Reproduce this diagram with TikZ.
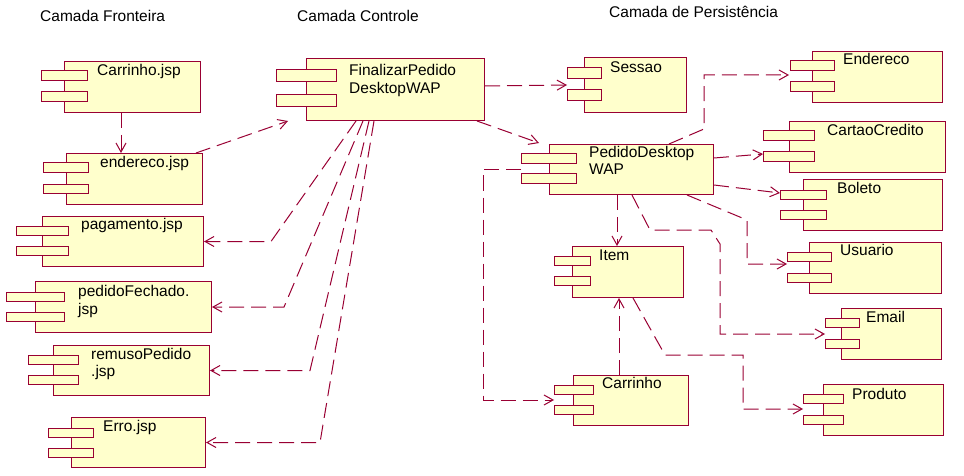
\documentclass[tikz,border=0pt]{standalone}
\usepackage{fontspec}
\setmainfont{Liberation Sans}
\usetikzlibrary{arrows.meta,calc}
\definecolor{umlred}{RGB}{153,0,51}
\definecolor{umlfill}{RGB}{255,255,204}
\tikzset{
  compbox/.style={draw=umlred, fill=umlfill, line width=1pt, inner sep=0pt},
  tabbox/.style={draw=umlred, fill=umlfill, line width=1pt},
  lbl/.style={anchor=base west, inner sep=0pt, font=\fontsize{15.5}{17.5}\selectfont},
  dep/.style={draw=umlred, line width=1pt, dash pattern=on 15pt off 7pt,
    -{Straight Barb[length=9pt,width=10pt]}},
}
\def\tabh{9.5}
\newcommand\comp[9]{%
  \node[compbox, anchor=north west, minimum width={(#4-#2)*1pt},
        minimum height={(#5-#3)*1pt}] (#1) at (#2,#3) {};
  \draw[tabbox] (#6,#8) rectangle (#7,{#8+\tabh});
  \draw[tabbox] (#6,#9) rectangle (#7,{#9+\tabh});
}
\newcommand\twoline[2]{\begin{tabular}[t]{@{}l@{}}#1\\#2\end{tabular}}
\begin{document}
\begin{tikzpicture}[x=1pt,y=-1pt]
\useasboundingbox (0,0) rectangle (964,476);

% headers
\node[lbl] (h1) at (40,21.7) {Camada Fronteira};
\node[lbl] (h2) at (297,21.7) {Camada Controle};
\node[lbl] (h3) at (609,17.7) {Camada de Persistência};

% boundary layer
\comp{cjsp}{64}{61}{200}{112}{41}{87}{71}{92}
\node[lbl] (cjspl) at (97,75.7) {Carrinho.jsp};
\comp{ejsp}{66}{153}{202}{204}{43}{88}{163}{184}
\node[lbl] (ejspl) at (100,167.7) {endereco.jsp};
\comp{pjsp}{42}{216}{203}{266}{16}{68}{226}{246}
\node[lbl] (pjspl) at (81,229.3) {pagamento.jsp};
\comp{pfjsp}{35}{281}{211}{332}{6}{64}{292}{312}
\node[lbl] (pfjspl) at (78,296.7) {\twoline{pedidoFechado.}{jsp}};
\comp{rpjsp}{53}{345}{209}{395}{28}{78}{355}{375}
\node[lbl] (rpjspl) at (91,359) {\twoline{remusoPedido}{.jsp}};
\comp{errjsp}{71}{417}{205}{467}{48}{93}{428}{448}
\node[lbl] (errjspl) at (103,431) {Erro.jsp};

% control layer
\def\tabh{12}
\comp{fin}{306}{58}{484}{120}{276}{336}{70}{95}
\def\tabh{9.5}
\node[lbl] (finl) at (349,75.6) {\twoline{FinalizarPedido}{DesktopWAP}};

% persistence layer
\def\tabh{11}
\comp{sess}{584}{57}{686}{112}{567}{601}{68}{90}
\def\tabh{9.5}
\node[lbl] (sessl) at (610,73) {Sessao};
\comp{ped}{549}{144}{713}{194}{521}{576}{154}{174}
\node[lbl] (pedl) at (589,157.3) {\twoline{PedidoDesktop}{WAP}};
\comp{item}{572}{246}{683}{297}{554}{590}{256}{276}
\node[lbl] (iteml) at (599,260) {Item};
\comp{car}{573}{375}{688}{425}{554}{593}{385}{405}
\node[lbl] (carl) at (602,388.7) {Carrinho};
\comp{endr}{812}{51}{942}{102}{790}{834}{61}{82}
\node[lbl] (endrl) at (843,65) {Endereco};
\comp{cc}{789}{121}{945}{172}{763}{814}{131}{152}
\node[lbl] (ccl) at (827,135.7) {CartaoCredito};
\comp{bol}{803}{179}{942}{230}{780}{826}{190}{210}
\node[lbl] (boll) at (837,193.7) {Boleto};
\comp{usu}{809}{242}{941}{293}{787}{831}{252}{273}
\node[lbl] (usul) at (840,255.7) {Usuario};
\comp{email}{841}{308}{941}{359}{825}{859}{318}{339}
\node[lbl] (emaill) at (866,322.7) {Email};
\comp{prod}{823}{384}{943}{435}{803}{843}{394}{415}
\node[lbl] (prodl) at (852,399) {Produto};

% connectors
\draw[dep] ($(cjsp.south west)+(57,0)$) -- ($(ejsp.north west)+(55,0)$);
\draw[dep] ($(ejsp.north east)+(-7,0)$) -- ($(fin.south west)+(-18,0)$);
\draw[dep] ($(fin.north east)+(0,28)$) -- ($(sess.north west)+(-17,28)$);
\draw[dep] ($(fin.south east)+(-8,0)$) -- ($(ped.north west)+(-10,-1)$);
\draw[dep] ($(fin.south west)+(50,0)$) -- ($(pjsp.east)+(67,0)$) -- (pjsp.east);
\draw[dep] ($(fin.south west)+(57,0)$) -- ($(pfjsp.east)+(72,0)$) -- (pfjsp.east);
\draw[dep] ($(fin.south west)+(63,0)$) -- ($(rpjsp.east)+(100,0)$) -- (rpjsp.east);
\draw[dep] ($(fin.south west)+(68,0)$) -- ($(errjsp.east)+(114,0)$) -- (errjsp.east);

\draw[dep] ($(ped.north west)+(120,0)$) -- ($(ped.north west)+(155,-15)$) |- ($(endr.north west)+(-23,24)$);
\draw[dep] ($(ped.north east)+(0,14)$) -- ($(cc.north west)+(-26,33)$);
\draw[dep] ($(ped.south east)+(0,-10)$) -- ($(bol.north west)+(-23,14)$);
\draw[dep] ($(ped.south east)+(-27,0)$) -- ($(ped.south east)+(33,25)$) |- ($(usu.north west)+(-22,22)$);
\draw[dep] ($(ped.south west)+(83,0)$) -- ($(ped.south west)+(101,35)$) -- ($(ped.south west)+(162,35)$) -- ($(ped.south west)+(171,49)$) |- ($(email.north west)+(-16,26)$);
\draw[dep] ($(ped.south west)+(68,0)$) -- ($(item.north west)+(45,0)$);
\draw[dep] ($(item.south west)+(61,0)$) -- ($(item.south west)+(93,57)$) -- ($(item.south west)+(171,57)$) |- ($(prod.north west)+(-20,25)$);
\draw[dep] ($(car.north west)+(46,0)$) -- ($(item.south west)+(47,0)$);
\draw[dep] ($(ped.west)+(-28,0)$) -- ($(ped.west)+(-66,0)$) |- ($(car.north west)+(-19,25)$);
\end{tikzpicture}
\end{document}
